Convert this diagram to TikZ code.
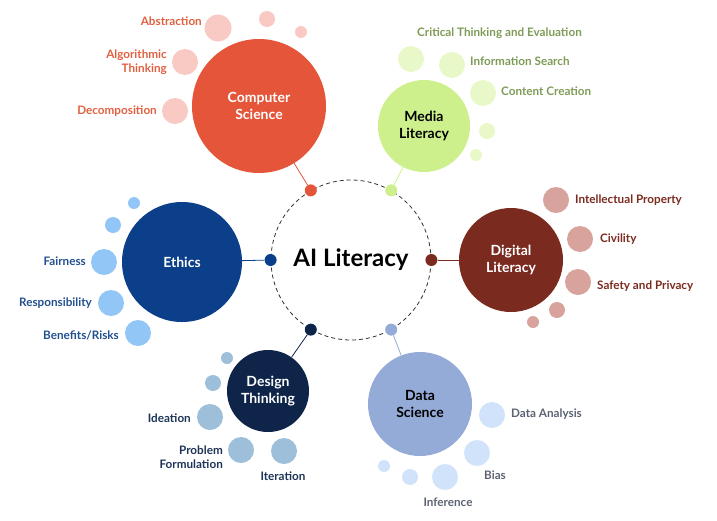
\documentclass[tikz,border=0pt]{standalone}
\usepackage{fontspec}
\setmainfont{Lato}
\usetikzlibrary{positioning}
\definecolor{csmain}{HTML}{E4553A}
\definecolor{cslight}{HTML}{F9CAC4}
\definecolor{cstext}{HTML}{E0603F}
\definecolor{mlmain}{HTML}{CDF08C}
\definecolor{mllight}{HTML}{E9F8C8}
\definecolor{mltext}{HTML}{7E9B57}
\definecolor{etmain}{HTML}{0B3F8A}
\definecolor{etlight}{HTML}{92C6F7}
\definecolor{ettext}{HTML}{22508F}
\definecolor{dlmain}{HTML}{7A2A1E}
\definecolor{dllight}{HTML}{D9A39D}
\definecolor{dltext}{HTML}{7A2A1E}
\definecolor{dtmain}{HTML}{0E2549}
\definecolor{dtlight}{HTML}{9DBFDA}
\definecolor{dttext}{HTML}{1E3457}
\definecolor{dsmain}{HTML}{94ABD7}
\definecolor{dslight}{HTML}{D0E3FA}
\definecolor{dstext}{HTML}{5B6272}

\begin{document}
\begin{tikzpicture}[x=1pt, y=-1pt, inner sep=0]
  \tikzstyle{topic} = [shape=circle, align=center, text=white, font=\bfseries\fontsize{14}{17}\selectfont]
  \tikzstyle{bubble} = [shape=circle]
  \tikzstyle{hub} = [shape=circle, minimum size=12pt]
  \tikzstyle{lbl} = [align=right, font=\bfseries\fontsize{11.7}{14.5}\selectfont]
  \useasboundingbox (0,0) rectangle (717,520);
  % place nodes
  \path node (ai) [draw=black!80, line width=0.8pt, dash pattern=on 4pt off 3pt, shape=circle, minimum size=160pt, font=\bfseries\fontsize{24}{28}\selectfont] at (351,260) {AI Literacy};
  \path node (cs) [topic, fill=csmain, minimum size=134pt] at (259,106) {Computer\\Science};
  \path node (ml) [topic, fill=mlmain, text=black, minimum size=92pt] at (424,126) {Media\\Literacy};
  \path node (et) [topic, fill=etmain, minimum size=120pt] at (182,262) {Ethics};
  \path node (dl) [topic, fill=dlmain, minimum size=104pt] at (511,260) {Digital\\Literacy};
  \path node (dt) [topic, fill=dtmain, minimum size=82pt] at (268,391) {Design\\Thinking};
  \path node (ds) [topic, fill=dsmain, text=black, minimum size=104pt] at (420,404) {Data\\Science};
  % hubs on the dashed ring
  \path node (hcs) [hub, fill=csmain] at (ai.120) {};
  \path node (hml) [hub, fill=mlmain] at (ai.60) {};
  \path node (het) [hub, fill=etmain] at (ai.180) {};
  \path node (hdl) [hub, fill=dlmain] at (ai.0) {};
  \path node (hdt) [hub, fill=dtmain] at (ai.240) {};
  \path node (hds) [hub, fill=dsmain] at (ai.300) {};
  % place edges
  \draw [csmain, thick] (hcs) -- (cs);
  \draw [mlmain, thick] (hml) -- (ml);
  \draw [etmain, thick] (het) -- (et);
  \draw [dlmain, thick] (hdl) -- (dl);
  \draw [dtmain, thick] (hdt) -- (dt);
  \draw [dsmain, thick] (hds) -- (ds);
  % satellite bubbles
  \foreach \x/\y/\d [count=\i] in {218/28/27, 267/19/16, 301/32/12, 185/62/26, 175/111/26}
    { \path node (csb\i) [bubble, fill=cslight, minimum size=\d pt] at (\x,\y) {}; }
  \foreach \x/\y/\d [count=\i] in {411/59/26, 452/65/26, 483/93/26, 487/131/16, 476/155/12}
    { \path node (mlb\i) [bubble, fill=mllight, minimum size=\d pt] at (\x,\y) {}; }
  \foreach \x/\y/\d [count=\i] in {134/203/12, 113/225/16, 104/262/26, 111/303/26, 138/333/26}
    { \path node (etb\i) [bubble, fill=etlight, minimum size=\d pt] at (\x,\y) {}; }
  \foreach \x/\y/\d [count=\i] in {556/200/26, 580/239/26, 578/282/26, 557/310/16, 533/322/12}
    { \path node (dlb\i) [bubble, fill=dllight, minimum size=\d pt] at (\x,\y) {}; }
  \foreach \x/\y/\d [count=\i] in {227/358/12, 213/383/16, 210/417/26, 241/450/26, 284/451/26}
    { \path node (dtb\i) [bubble, fill=dtlight, minimum size=\d pt] at (\x,\y) {}; }
  \foreach \x/\y/\d [count=\i] in {492/415/26, 477/453/26, 445/477/26, 410/477/16, 384/466/12}
    { \path node (dsb\i) [bubble, fill=dslight, minimum size=\d pt] at (\x,\y) {}; }
  % labels
  \path node (abs) [lbl, text=cstext, anchor=east] at (202,21) {Abstraction};
  \path node (alg) [lbl, text=cstext, anchor=east] at (167,62) {Algorithmic\\Thinking};
  \path node (dec) [lbl, text=cstext, anchor=east] at (157,111) {Decomposition};
  \path node (crit) [lbl, text=mltext, anchor=west] at (417,33) {Critical Thinking and Evaluation};
  \path node (info) [lbl, text=mltext, anchor=west] at (470,61) {Information Search};
  \path node (cont) [lbl, text=mltext, anchor=west] at (501,91) {Content Creation};
  \path node (fair) [lbl, text=ettext, anchor=east] at (86,261) {Fairness};
  \path node (resp) [lbl, text=ettext, anchor=east] at (92,303) {Responsibility};
  \path node (bene) [lbl, text=ettext, anchor=east] at (119,335) {Benefits/Risks};
  \path node (ip) [lbl, text=dltext, anchor=west] at (575,200) {Intellectual Property};
  \path node (civ) [lbl, text=dltext, anchor=west] at (600,239) {Civility};
  \path node (saf) [lbl, text=dltext, anchor=west] at (597,286) {Safety and Privacy};
  \path node (idea) [lbl, text=dttext, anchor=east] at (191,418) {Ideation};
  \path node (prob) [lbl, text=dttext, anchor=east] at (223,457) {Problem\\Formulation};
  \path node (iter) [lbl, text=dttext] at (283,476) {Iteration};
  \path node (ana) [lbl, text=dstext, anchor=west] at (511,414) {Data Analysis};
  \path node (bias) [lbl, text=dstext] at (495,475) {Bias};
  \path node (infe) [lbl, text=dstext] at (448,502) {Inference};
\end{tikzpicture}
\end{document}
